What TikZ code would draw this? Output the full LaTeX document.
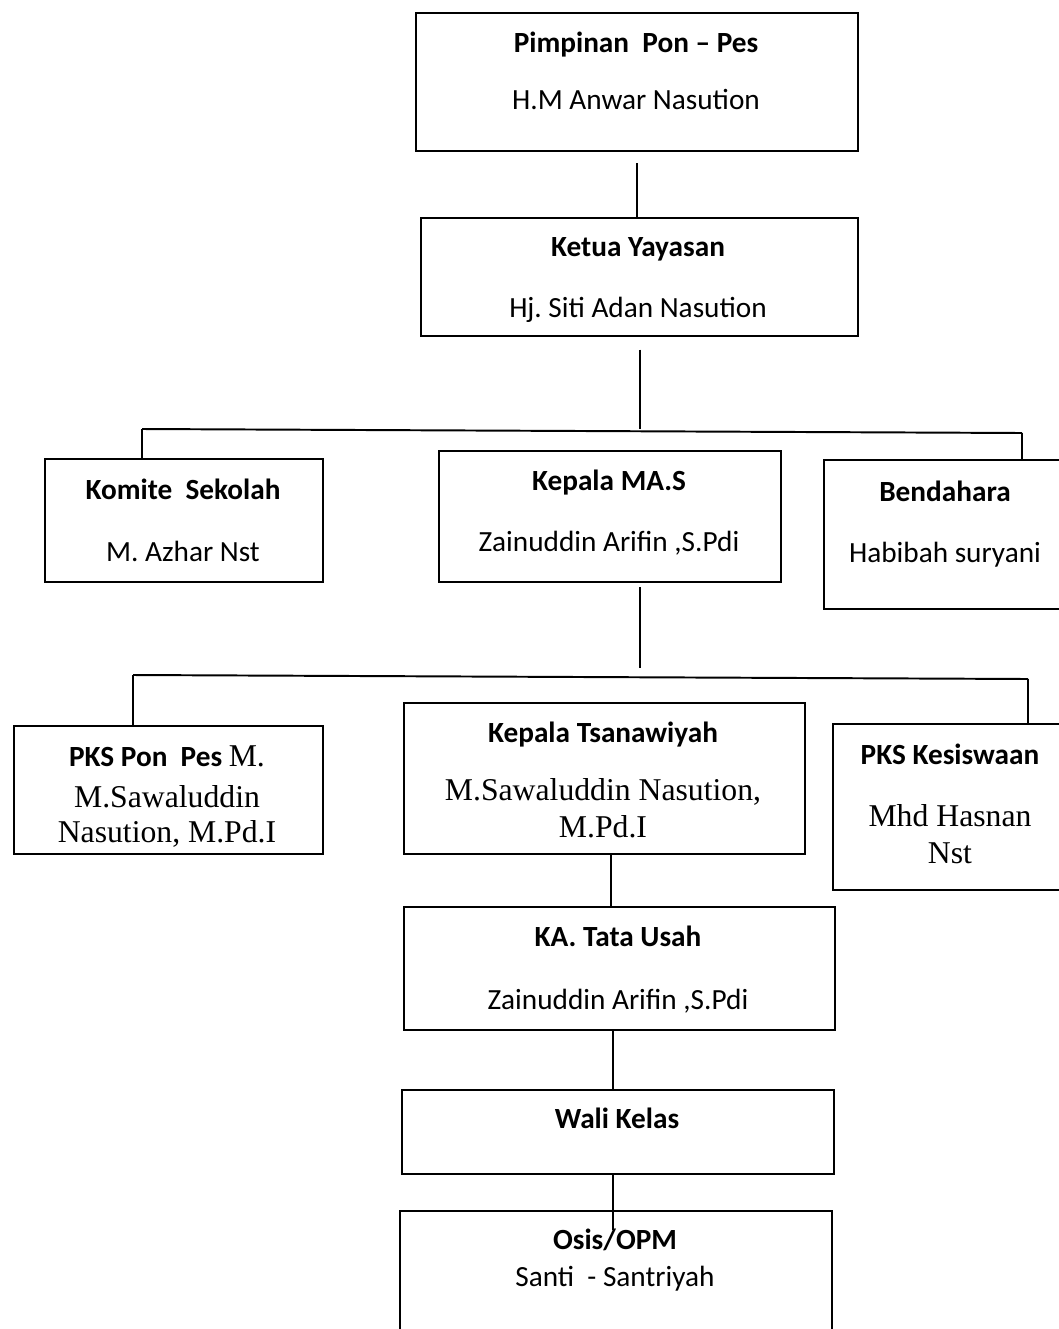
\documentclass[tikz,border=0pt]{standalone}
\usepackage{fontspec}
\setmainfont{Carlito}
\newfontfamily\timesfont{Liberation Serif}

\def\pxu{0.41pt}

\begin{document}
\frenchspacing
\begin{tikzpicture}[x=0.41pt,y=-0.41pt,
  box/.style 2 args={draw,line width=1pt,anchor=north west,minimum width=#1*\pxu,minimum height=#2*\pxu,inner sep=0pt},
  ttl/.style={font=\fontsize{12}{14}\selectfont\bfseries,inner sep=0pt,text height=7.7pt,text depth=0pt},
  nm/.style={font=\fontsize{12}{14}\selectfont,inner sep=0pt,text height=7.7pt,text depth=0pt},
  nmt/.style={font=\fontsize{13}{15}\timesfont,inner sep=0pt,text height=8.6pt,text depth=0pt},
  link/.style={line width=0.8pt}]
\useasboundingbox (0,0) rectangle (1059,1329);
\clip (0,0) rectangle (1059,1329);
% boxes
\node[box={442}{138}] (pim) at (415,12) {};
\node[box={437}{118}] (ketua) at (420,217) {};
\node[box={278}{123}] (komite) at (44,458) {};
\node[box={342}{131}] (kepma) at (438,450) {};
\node[box={244}{149}] (bend) at (823,459) {};
\node[box={309}{128}] (pkspon) at (13,725) {};
\node[box={401}{151}] (tsan) at (403,702) {};
\node[box={236}{166}] (kesis) at (832,723) {};
\node[box={431}{123}] (tu) at (403,906) {};
\node[box={432}{84}] (wali) at (401,1089) {};
\node[box={432}{140}] (osis) at (399,1210) {};
% titles
\foreach \n/\x/\y/\t in {pimT/636/43/Pimpinan\ \ Pon – Pes, ketuaT/638/247/Ketua Yayasan,
  komiteT/183/490/Komite\ \ Sekolah, kepmaT/609/481/Kepala MA.S, bendT/945/492/Bendahara,
  tsanT/603/733/Kepala Tsanawiyah, kesisT/950/755/PKS Kesiswaan, tuT/618/937/KA. Tata Usah,
  waliT/617/1119/Wali Kelas, osisT/615/1240/{Osis/OPM}} {
   \node[ttl] (\n) at (\x,\y) {\t};
}
\node[ttl] (pksponT) at (167,757) {PKS Pon\ \ Pes {\fontsize{13}{15}\timesfont\mdseries M.}};
% names
\node[nm] (pimN) at (636,100) {H.M Anwar Nasution};
\node[nm] (ketuaN) at (638,308) {Hj. Siti Adan Nasution};
\node[nm] (komiteN) at (183,552) {M. Azhar Nst};
\node[nm] (kepmaN) at (609,542) {Zainuddin Arifin ,S.Pdi};
\node[nm] (bendN) at (945,553) {Habibah suryani};
\node[nmt] (pksponN) at (167,797) {M.Sawaluddin};
\node[nmt] (pksponN2) at (167,832) {Nasution, M.Pd.I};
\node[nmt] (tsanN) at (603,790) {M.Sawaluddin Nasution,};
\node[nmt] (tsanN2) at (603,827) {M.Pd.I};
\node[nmt] (kesisN) at (950,816) {Mhd Hasnan};
\node[nmt] (kesisN2) at (950,853) {Nst};
\node[nm] (tuN) at (618,1000) {Zainuddin Arifin ,S.Pdi};
\node[nm] (osisN) at (615,1277) {Santi\ \ - Santriyah};
% connectors
\coordinate (busA1) at (142,429);
\coordinate (busA2) at (1022,433);
\coordinate (busB1) at (133,675);
\coordinate (busB2) at (1028,679);
\draw[link,shorten <=4.5pt] (pim.south) -- (pim.south |- ketua.north);
\draw[link,shorten <=5pt] (ketua.south) -- (ketua.south |- busA1);
\draw[link] (busA1) -- (busA2);
\draw[link] (busA1) -- (busA1 |- komite.north);
\draw[link] (busA2) -- (busA2 |- bend.north);
\draw[link,shorten <=1.6pt,shorten >=2.9pt] (kepma.south -| ketua.south) -- (ketua.south |- busB1);
\draw[link] (busB1) -- (busB2);
\draw[link] (busB1) -- (busB1 |- pkspon.north);
\draw[link] (busB2) -- (busB2 |- kesis.north);
\draw[link] ([xshift=2.7pt]tsan.south) -- ([xshift=2.7pt]tsan.south |- tu.north);
\draw[link] ([xshift=-2.7pt]tu.south) -- ([xshift=-2.7pt]tu.south |- wali.north);
\draw[link] ([xshift=-2pt]wali.south) -- ([xshift=-2pt]wali.south |- osisT.north);
\end{tikzpicture}
\end{document}
